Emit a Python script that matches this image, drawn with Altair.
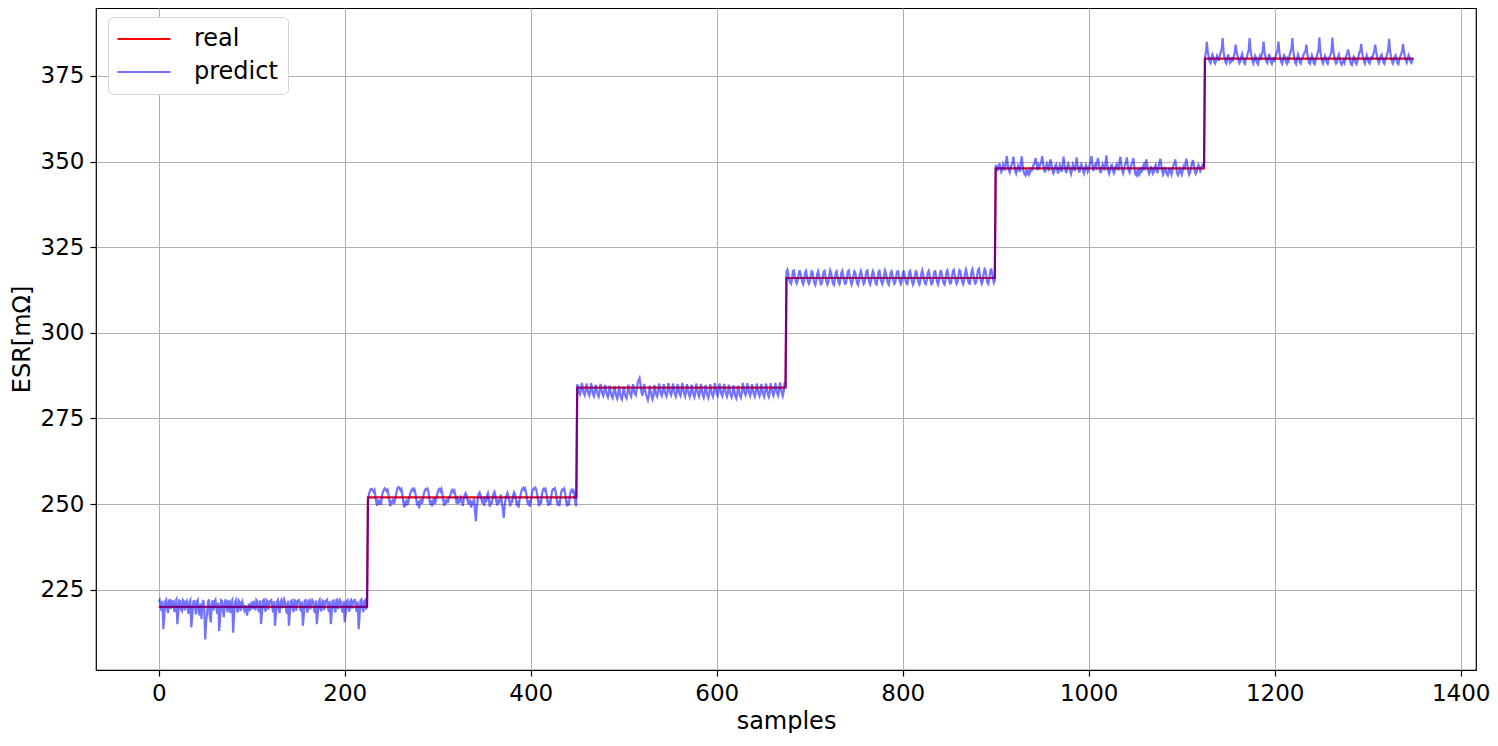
import altair as alt
import pandas as pd

# ---- data ----
levels = [220, 252, 284, 316, 348, 380]   # real ESR levels (mΩ), 225 samples each
seg_len = 225

# predict deviations from the real level, 15 rows x 15 samples per segment
dev_220 = [
    [1.5, 2.0, 0.3, -1.2, 1.8, -6.5, -2.5, 1.6, 2.1, -0.4, -1.8, 1.9, 2.0, -0.6, 1.2],
    [2.0, 0.2, -1.5, 1.7, 2.2, -5.0, -1.8, 1.9, 1.8, -0.8, -1.2, 2.0, 1.6, -1.0, 1.4],
    [1.8, -0.5, -2.0, 1.5, 2.0, -6.0, -3.0, 1.2, 2.0, 0.1, -2.2, 1.7, 2.1, -1.4, -2.5],
    [1.0, -3.5, 1.2, 2.0, -0.5, -9.5, -4.0, -2.0, 1.5, 2.2, -2.8, -4.5, 1.0, 1.9, -1.0],
    [1.6, 2.1, -0.2, -2.0, 1.3, -7.0, -3.5, 2.0, 1.8, -1.0, -3.0, 1.5, 2.2, 0.0, -1.5],
    [2.0, 1.0, -1.8, 1.6, 2.1, -7.5, -2.5, 1.4, 2.0, -0.2, -1.6, 1.9, 1.5, -1.2, 1.1],
    [1.7, -0.3, -1.0, 0.5, -0.8, -2.5, -0.5, 1.0, -1.2, 0.2, 1.5, -0.6, 1.8, 0.4, -1.0],
    [2.0, 1.6, -0.5, -1.5, 1.9, -5.0, -2.0, 1.8, 2.1, -0.3, -1.4, 2.0, 1.7, -0.8, 1.3],
    [1.8, 2.0, 0.0, -1.6, 1.7, -5.5, -2.2, 1.5, 2.0, -0.6, -1.8, 1.6, 2.1, -0.4, 1.0],
    [2.1, 1.2, -1.0, -2.0, 1.8, -5.5, -1.9, 1.7, 1.9, -0.2, -1.5, 2.0, 1.8, -1.1, 1.4],
    [1.9, 2.0, -0.4, -1.3, 1.6, -5.5, -2.4, 1.9, 2.0, 0.1, -1.7, 1.8, 2.0, -0.7, 1.2],
    [2.0, 1.5, -0.6, -1.8, 1.9, -5.0, -2.0, 1.6, 2.1, -0.5, -1.3, 1.9, 1.7, -0.9, 1.5],
    [1.8, 2.1, -0.2, -1.5, 1.7, -5.0, -2.1, 1.8, 1.9, -0.3, -1.6, 2.0, 2.2, -0.6, 1.1],
    [2.0, 1.4, -0.8, -1.7, 1.8, -4.5, -1.8, 1.7, 2.0, -0.4, -1.4, 1.8, 2.1, -0.5, 1.3],
    [1.9, 2.0, -0.3, -1.4, 1.6, -6.5, -2.3, 1.9, 2.2, -0.2, -1.5, 1.7, 2.0, -0.8, 1.2],
]
dev_252 = [
    [-1.0, 0.8, 1.8, 2.4, 2.5, 2.0, 1.6, 2.1, 0.4, -1.6, -2.4, -0.6, -2.0, -0.8, -2.2],
    [0.2, 1.5, 2.2, 2.6, 2.3, 1.8, 2.2, 1.0, -1.2, -2.6, -0.8, -1.8, -0.5, -2.0, -1.0],
    [0.5, 1.9, 2.8, 3.0, 2.6, 2.0, 2.4, 0.8, -1.5, -3.0, -1.0, -2.5, -0.6, -2.2, -0.4],
    [0.6, 1.6, 2.2, 2.5, 1.9, 2.3, 1.2, -0.8, -2.4, -1.0, -3.2, -1.4, -0.5, -2.0, -0.6],
    [1.0, 1.8, 2.4, 2.2, 2.5, 1.7, -0.5, -2.2, -0.8, -2.6, -1.2, -0.2, -2.0, -0.9, 0.4],
    [1.5, 2.3, 2.5, 1.8, 2.4, 1.0, -1.0, -2.5, -0.7, -2.0, -0.5, -1.6, -0.3, 0.2, 1.0],
    [2.0, 2.2, 1.5, 1.9, 0.5, -1.2, -0.5, -2.0, -0.4, -1.5, -0.2, -1.0, -2.5, -0.5, 0.8],
    [1.2, 0.5, -0.8, -2.0, -0.6, -1.5, -3.0, -1.0, -2.2, -0.4, -4.0, -7.0, -3.0, -0.5, 1.0],
    [1.4, 0.6, -0.5, -1.8, -0.3, -2.5, -0.8, -1.5, 0.5, 1.2, -0.6, -2.8, -1.0, -2.0, -0.4],
    [1.0, 1.6, 0.4, -1.2, -2.4, -0.6, -1.8, -0.2, 0.8, -1.5, -3.5, -6.0, -2.5, -0.5, 0.6],
    [1.3, 0.2, -1.0, -2.6, -0.8, -1.6, 0.4, 1.5, 1.0, -0.5, -2.5, -1.0, -3.0, -0.8, 0.5],
    [1.8, 2.5, 2.8, 2.2, 2.6, 1.4, -0.6, -2.2, -0.8, -2.8, -1.2, 0.4, 2.0, 2.6, 2.4],
    [2.8, 2.2, 0.8, -1.4, -2.6, -0.6, -2.0, 0.6, 2.2, 2.5, 2.0, 2.4, 1.0, -1.2, -2.5],
    [-0.8, -2.2, 0.2, 1.8, 2.4, 2.2, 2.6, 1.4, -0.8, -2.4, -1.0, -2.6, 0.0, 1.9, 2.3],
    [2.0, 2.5, 1.2, -1.0, -2.6, -0.9, -2.4, 0.4, 1.8, 2.2, 1.6, 2.0, 0.8, -1.8, -2.6],
]
dev_284 = [
    [1.0, 0.2, -1.5, -2.0, -0.8, 1.4, -0.2, -1.6, -2.2, -0.9, 1.2, -0.5, -1.8, -2.3, -1.0],
    [1.3, -0.4, -1.9, -2.5, -1.1, 0.9, -0.7, -2.0, -2.6, -1.2, 1.1, -0.3, -1.7, -2.4, -1.3],
    [0.8, -0.8, -2.2, -2.8, -1.5, 0.6, -1.2, -2.4, -3.0, -1.8, 0.4, -1.0, -2.5, -3.2, -2.0],
    [0.5, -1.4, -2.8, -3.4, -2.0, 0.2, -1.5, -2.6, -3.1, -1.6, 0.9, -0.6, -2.0, -2.6, -1.0],
    [1.0, -0.5, -1.8, -2.2, -0.6, 1.5, 2.2, 2.8, 1.0, -1.2, -2.4, -1.0, 1.1, -0.6, -2.0],
    [-2.8, -3.6, -2.2, 0.6, -1.0, -2.5, -3.4, -2.4, 0.8, -0.7, -2.1, -2.6, -1.1, 1.2, -0.4],
    [-1.8, -2.4, -1.2, 1.0, -0.6, -2.0, -2.6, -1.3, 1.3, -0.2, -1.6, -2.2, -1.0, 1.2, -0.5],
    [-1.9, -2.6, -1.4, 1.1, -0.5, -1.8, -2.4, -1.0, 1.4, -0.3, -1.7, -2.5, -1.2, 1.0, -0.6],
    [-2.0, -2.7, -1.5, 0.9, -0.7, -2.1, -2.8, -1.4, 1.2, -0.4, -1.9, -2.6, -1.3, 1.1, -0.5],
    [-2.2, -2.9, -1.6, 0.8, -0.9, -2.3, -3.0, -1.7, 1.0, -0.6, -2.0, -2.7, -1.4, 1.3, -0.2],
    [-1.7, -2.4, -1.0, 1.2, -0.4, -1.9, -2.5, -1.2, 1.1, -0.5, -1.8, -2.6, -1.5, 0.9, -0.8],
    [-2.1, -2.8, -1.7, 0.7, -1.0, -2.4, -3.1, -2.0, 0.6, -0.9, -2.3, -2.9, -1.6, 1.4, 0.0],
    [-1.5, -2.2, -1.1, 1.3, -0.3, -1.7, -2.4, -1.1, 1.0, -0.6, -2.0, -2.6, -1.2, 1.2, -0.4],
    [-1.8, -2.5, -1.3, 1.1, -0.6, -2.0, -2.7, -1.4, 1.2, -0.4, -1.9, -2.7, -1.4, 1.3, -0.2],
    [-1.6, -2.3, -1.2, 1.4, -0.2, -1.6, -2.3, -1.0, 1.5, 0.0, -1.5, -2.4, -1.2, 1.6, 0.2],
]
dev_316 = [
    [1.8, 2.4, 1.0, -0.4, -1.4, -1.7, -0.2, 2.0, 2.2, 0.4, -1.0, -1.6, -0.8, 0.8, 2.3],
    [1.4, 0.2, -1.2, -1.8, -0.6, 1.6, 2.1, 0.6, -0.9, -1.7, -1.2, 0.5, 2.0, 1.8, -0.2],
    [-1.4, -2.0, -0.8, 1.2, 2.0, 0.9, -0.7, -1.8, -1.5, 0.3, 1.9, 2.1, 0.4, -1.1, -1.9],
    [-1.2, 0.6, 2.2, 1.5, -0.3, -1.6, -2.0, -0.5, 1.7, 2.0, 0.2, -1.3, -1.8, -0.6, 1.5],
    [2.1, 0.8, -0.8, -1.7, -1.6, 0.2, 1.9, 2.2, 0.5, -1.0, -1.9, -1.1, 0.7, 2.0, 1.6],
    [-0.2, -1.5, -2.0, -0.7, 1.4, 2.1, 0.9, -0.8, -1.8, -1.4, 0.4, 2.0, 2.2, 0.3, -1.2],
    [-1.9, -0.9, 1.1, 2.0, 1.2, -0.4, -1.7, -1.9, -0.3, 1.8, 2.1, 0.6, -1.0, -1.8, -1.0],
    [0.9, 2.2, 1.4, -0.2, -1.5, -2.0, -0.6, 1.6, 2.0, 0.8, -0.9, -1.7, -1.3, 0.5, 1.9],
    [2.0, 0.4, -1.1, -1.8, -0.9, 1.2, 2.2, 1.0, -0.6, -1.6, -1.8, -0.2, 1.8, 2.1, 0.5],
    [-1.0, -1.9, -1.2, 0.6, 2.0, 1.8, 0.0, -1.4, -1.9, -0.8, 1.3, 2.2, 1.1, -0.5, -1.6],
    [-1.8, -0.4, 1.6, 2.1, 0.7, -0.9, -1.8, -1.5, 0.2, 1.9, 2.0, 0.3, -1.2, -1.9, -0.7],
    [1.2, 2.3, 1.2, -0.4, -1.6, -1.9, -0.5, 1.7, 2.2, 0.9, -0.7, -1.6, -1.4, 0.4, 2.0],
    [2.4, 0.8, -0.8, -1.7, -1.2, 0.8, 2.3, 2.0, 0.2, -1.2, -1.8, -0.6, 1.5, 2.5, 1.4],
    [-0.3, -1.5, -1.7, -0.2, 1.9, 2.6, 1.0, -0.7, -1.6, -1.3, 0.6, 2.4, 2.7, 0.8, -0.9],
    [-1.7, -0.9, 1.2, 2.6, 2.2, 0.3, -1.3, -1.7, -0.4, 1.8, 2.8, 1.6, -0.2, -1.4, -0.8],
]
dev_348 = [
    [1.0, 0.4, -0.8, 0.6, 1.5, 0.2, -1.0, -0.4, 1.2, 0.5, -0.6, 1.8, 3.6, 1.0, -0.5],
    [-1.2, 0.2, 1.0, 1.5, 3.4, 1.2, -0.8, -1.5, -0.6, 0.8, 0.2, -1.0, 1.6, 3.5, 0.8],
    [-1.0, -1.6, -2.0, -0.8, -1.4, -0.5, -1.8, -1.2, 0.2, -0.8, 0.6, 1.2, 1.8, 3.0, 1.0],
    [-0.5, 1.0, 0.4, 1.2, 2.0, 3.6, 1.4, -0.4, -1.2, 0.5, 1.4, 0.6, -0.8, 1.5, 2.6],
    [1.2, -0.6, -1.4, -0.8, 0.8, 1.2, -0.2, -1.5, -0.6, 1.0, 0.4, -1.0, 1.4, 3.4, 1.0],
    [-0.6, -1.4, 0.6, 1.4, 0.8, -0.8, -1.6, -0.4, 1.2, 0.6, -0.8, 1.0, 3.2, 1.0, -0.4],
    [-1.2, 0.4, 1.2, 0.6, -0.8, -1.5, -0.2, 1.0, 0.4, -1.0, -0.4, 1.1, 1.8, 3.6, 0.8],
    [-0.8, 0.6, 1.2, 0.4, 1.6, 3.0, 1.0, -0.6, -1.4, 0.2, 1.2, 0.6, -0.6, 1.4, 3.8],
    [1.0, -0.8, -1.6, -0.6, 0.8, 1.0, -0.4, -1.4, -0.8, 0.6, 1.2, 0.4, -0.6, 1.8, 3.4],
    [1.2, -0.6, -1.4, -0.2, 1.0, 1.6, 3.2, 1.0, -0.6, -1.2, 0.2, 1.2, 1.6, 3.0, 0.6],
    [-1.6, -2.0, -1.0, -1.8, -0.6, -1.4, -0.4, -1.2, 0.4, 1.0, -0.6, 1.4, 2.6, 0.8, -0.8],
    [-1.6, -0.8, 0.6, -0.4, -1.5, -1.0, 0.4, 1.0, -0.6, -1.4, 0.2, 1.6, 2.8, 1.0, -0.6],
    [-1.8, -1.0, 0.4, -0.6, -1.6, -2.0, -0.8, 0.2, -1.0, -1.8, -0.4, 0.8, 1.2, 2.6, 0.8],
    [-1.4, -2.0, -1.2, -0.2, -1.0, -1.8, -0.6, 0.6, 0.2, 1.4, 2.8, 1.0, -0.6, -1.8, -1.2],
    [0.2, 1.4, 2.4, 1.0, -0.8, -1.6, -1.0, 0.2, 1.0, 0.4, -0.8, -0.2, 0.8, 1.2, 0.4],
]
dev_380 = [
    [0.4, 1.8, 4.9, 2.0, 0.6, -0.8, -1.2, 0.2, 1.2, 0.4, -1.0, -1.4, -0.4, 0.8, 0.2],
    [-0.6, 1.0, 2.0, 2.6, 6.0, 2.0, 0.4, -1.0, -1.4, 0.2, 1.2, 0.0, -1.2, -0.8, 0.4],
    [-0.8, 0.6, 1.8, 4.1, 2.2, 1.0, -0.4, -1.3, -0.8, 0.6, 1.4, 0.2, -1.1, -1.5, -0.2],
    [0.4, 1.6, 2.4, 6.0, 2.6, 0.8, -0.6, -1.4, -0.6, 0.8, 0.2, -1.2, -1.6, -0.4, 0.6],
    [-0.4, 1.2, 2.2, 5.0, 2.0, 0.6, -0.8, -1.2, 0.2, 1.4, 0.4, -1.0, -1.5, -0.6, 0.4],
    [-0.8, 0.8, 1.6, 2.4, 5.0, 2.0, 0.2, -1.0, -1.5, -0.4, 1.0, 0.6, -0.8, -1.4, 0.0],
    [-0.6, 1.0, 2.2, 2.8, 6.0, 2.2, 0.4, -1.2, -1.6, -0.2, 1.2, 0.4, -1.0, -1.4, -0.2],
    [0.2, 1.2, 1.8, 2.0, 4.1, 1.6, 0.0, -1.2, -1.5, 0.0, 1.0, 0.2, -1.3, -1.6, -0.4],
    [0.4, 1.6, 2.2, 6.2, 2.4, 0.6, -0.8, -1.4, -0.4, 0.8, 0.2, -1.1, -1.5, -0.2, 0.6],
    [1.2, 2.0, 6.2, 2.6, 0.8, -0.6, -1.4, -1.0, 0.4, 1.2, 0.0, -1.2, -1.7, -1.0, -0.4],
    [-1.2, -0.2, 1.0, 1.8, 2.7, 1.2, -0.4, -1.5, -1.8, -0.6, 0.6, 0.2, -1.2, -1.6, -0.6],
    [0.6, 1.8, 2.2, 4.3, 1.8, 0.4, -0.8, -1.4, -0.2, 1.0, 0.2, -1.0, -1.4, -0.4, 0.4],
    [0.2, 1.4, 2.0, 4.1, 2.2, 0.8, -0.6, -1.3, -0.4, 0.8, 1.2, 0.0, -1.2, -1.5, -0.2],
    [0.4, 1.6, 2.4, 5.8, 2.4, 0.6, -0.8, -1.4, -0.6, 0.6, 1.0, -0.2, -1.3, -1.6, -0.4],
    [0.6, 1.4, 2.2, 4.3, 2.0, 0.6, -0.6, -1.2, -0.2, 1.0, 0.4, -0.8, -1.2, -0.4, 0.2],
]
devs = [dev_220, dev_252, dev_284, dev_316, dev_348, dev_380]

x_ticks = [0, 200, 400, 600, 800, 1000, 1200, 1400]
y_ticks = [225, 250, 275, 300, 325, 350, 375]
series_names = ["real", "predict"]

# ---- build table ----
real, predict = [], []
for lev, dev in zip(levels, devs):
    for row in dev:
        assert len(row) == 15
        for d in row:
            predict.append(lev + d)
            real.append(lev)
n = len(real)
samples = list(range(n))

df = pd.DataFrame({
    "sample": samples + samples,
    "value": real + predict,
    "series": ["real"] * n + ["predict"] * n,
})

FONT = "DejaVu Sans"
legend = alt.Legend(
    title=None, orient="none", legendX=12, legendY=9,
    fillColor="white", strokeColor="#d4d4d4", cornerRadius=5, padding=10,
    labelFont=FONT, labelFontSize=24, labelColor="black",
    symbolType="M-2.5,0L2.5,0", symbolSize=450, symbolStrokeWidth=2,
    symbolOffset=14, labelOffset=38, rowPadding=9,
)
color = alt.Color("series:N", scale=alt.Scale(domain=series_names, range=["#ff0000", "#0000ff"]), legend=legend)
opacity = alt.Opacity("series:N", scale=alt.Scale(domain=series_names, range=[1.0, 0.55]), legend=legend)

x = alt.X("sample:Q", scale=alt.Scale(domain=[-67.45, 1416.45], nice=False, zero=False),
          axis=alt.Axis(values=x_ticks, format="d", title="samples"))
y = alt.Y("value:Q", scale=alt.Scale(domain=[201.6, 394.8], nice=False, zero=False),
          axis=alt.Axis(values=y_ticks, format="d", title="ESR[mΩ]"))

base = alt.Chart(df)
real_line = base.transform_filter(alt.datum.series == "real").mark_line(strokeWidth=2.2).encode(
    x=x, y=y, color=color, opacity=opacity, order="sample:Q")
pred_line = base.transform_filter(alt.datum.series == "predict").mark_line(strokeWidth=2.2).encode(
    x=x, y=y, color=color, opacity=opacity, order="sample:Q")

chart = alt.layer(real_line, pred_line).properties(
    width=1380, height=662, padding={"left": 2, "top": 0, "right": 0, "bottom": 0},
).configure_view(
    stroke="black", strokeWidth=1.2,
).configure_axis(
    labelFont=FONT, labelFontSize=23, labelColor="black",
    titleFont=FONT, titleFontSize=24, titleFontWeight="normal", titleColor="black",
    grid=True, gridColor="#b0b0b0", gridWidth=1,
    domain=False, tickColor="black", tickSize=6, tickWidth=1.2,
    labelPadding=6,
).configure_axisY(
    titlePadding=6,
).configure_axisX(
    titlePadding=4,
)

chart.save("out.html", embed_options={"renderer": "svg", "actions": False})
